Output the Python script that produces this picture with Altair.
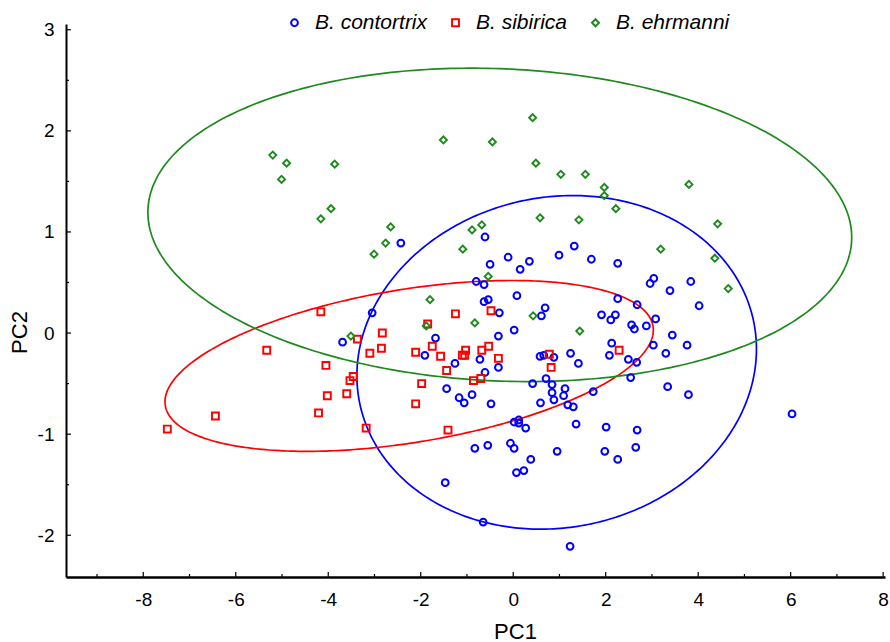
import numpy as np
import pandas as pd
import altair as alt

FONT = "Liberation Sans, Arial, sans-serif"

SPECIES = ["B. contortrix", "B. sibirica", "B. ehrmanni"]
COLORS = ["#0000FF", "#FF0000", "#1E8A1E"]
SHAPES = ["circle", "square", "diamond"]
SIZES = [46, 50, 62]
STROKES = [2.0, 1.9, 1.3]

contortrix_pc1 = [-2.43, -0.61, -0.11, -0.50, 0.15, -0.80, -0.63, 0.35, 0.99, 1.32,
                  1.69, 2.26, 0.08, -0.63, -0.54, -0.30, 0.61, 0.69, 1.91, 2.11,
                  2.21, 2.26, 2.68, 2.96, 3.04, 3.39, 3.84, 4.02, 3.08, 2.56,
                  2.62, 2.88, 0.02, 3.44, 3.76, 3.30, 3.03, 2.13, 2.08, 2.49,
                  2.67, 1.24, 1.41, 0.58, 0.66, 0.88, 0.71, 2.54, 0.42, 0.84,
                  0.84, 1.12, 1.09, 0.88, 1.73, 3.34, 3.79, 0.59, 1.18, 1.30,
                  -0.32, -0.72, -0.61, -0.32, -1.26, -1.44, -1.17, -1.06, -0.89, -0.48,
                  0.02, 0.12, 0.12, 0.27, -0.83, -0.55, -0.06, 0.02, 0.38, 0.07,
                  0.23, 0.95, 1.36, 2.01, 2.68, 1.98, 2.26, 2.65, -1.47, -0.65,
                  1.23, 6.03, -3.05, -3.69, -1.68, -1.91]
contortrix_pc2 = [0.89, 0.95, 0.75, 0.68, 0.63, 0.51, 0.48, 0.71, 0.77, 0.86,
                  0.73, 0.69, 0.37, 0.31, 0.33, 0.20, 0.17, 0.25, 0.18, 0.13,
                  0.18, 0.34, 0.28, 0.49, 0.54, 0.42, 0.51, 0.27, 0.14, 0.08,
                  0.04, 0.07, 0.03, -0.02, -0.12, -0.20, -0.12, -0.10, -0.22, -0.26,
                  -0.29, -0.20, -0.30, -0.23, -0.22, -0.24, -0.45, -0.44, -0.50, -0.51,
                  -0.59, -0.55, -0.62, -0.66, -0.58, -0.53, -0.61, -0.69, -0.71, -0.73,
                  -0.03, -0.26, -0.39, -0.34, -0.30, -0.55, -0.64, -0.69, -0.61, -0.70,
                  -0.88, -0.86, -0.89, -0.94, -1.14, -1.11, -1.09, -1.14, -1.25, -1.38,
                  -1.36, -1.17, -0.90, -0.93, -0.96, -1.17, -1.25, -1.13, -1.48, -1.87,
                  -2.11, -0.80, 0.20, -0.09, -0.05, -0.22]

sibirica_pc1 = [-4.16, -5.33, -4.05, -4.02, -4.21, -6.44, -7.48, -3.37, -2.83, -3.10,
                -2.85, -3.46, -3.53, -3.60, -3.18, -1.85, -2.11, -1.75, -1.57, -1.44,
                -1.98, -2.11, -1.41, -1.25, -0.48, -1.03, -1.05, -1.10, -0.68, -0.53,
                -0.32, -0.86, -0.70, 0.78, 0.82, 2.29]
sibirica_pc2 = [0.21, -0.17, -0.32, -0.62, -0.79, -0.82, -0.95, -0.06, 0.00, -0.20,
                -0.15, -0.43, -0.47, -0.60, -0.94, 0.09, -0.19, -0.13, -0.23, -0.37,
                -0.50, -0.70, -0.96, 0.19, 0.22, -0.17, -0.22, -0.22, -0.17, -0.13,
                -0.25, -0.47, -0.45, -0.21, -0.34, -0.17]

ehrmanni_pc1 = [-5.20, -4.90, -5.01, -3.86, -3.94, -4.16, -1.51, -0.45, -2.65, -2.76,
                -3.01, -0.89, -0.68, -1.09, -0.54, 0.42, 0.49, 1.03, 1.56, 1.97,
                1.97, 3.80, 2.22, 0.58, 1.42, 4.42, 3.19, 4.36, 4.65, -1.80,
                -1.88, -0.83, -3.51, 0.43, 1.44]
ehrmanni_pc2 = [1.76, 1.68, 1.52, 1.67, 1.23, 1.13, 1.91, 1.89, 1.05, 0.89,
                0.78, 1.02, 1.07, 0.83, 0.56, 2.13, 1.68, 1.57, 1.57, 1.44,
                1.36, 1.47, 1.23, 1.14, 1.12, 1.08, 0.83, 0.74, 0.44, 0.33,
                0.07, 0.10, -0.03, 0.17, 0.02]

# confidence ellipses: centre, half-ranges in x and y, and x-y coupling (cos of phase)
ell_cx = [0.94, -2.25, -0.29]
ell_cy = [-0.29, -0.325, 1.07]
ell_rx = [4.32, 5.28, 7.61]
ell_ry = [1.65, 0.845, 1.55]
ell_rho = [0.08, 0.42, -0.08]

x_major = [-8, -6, -4, -2, 0, 2, 4, 6, 8]
x_minor = [-9, -7, -5, -3, -1, 1, 3, 5, 7]
y_major = [-2, -1, 0, 1, 2, 3]
y_minor = [-1.5, -0.5, 0.5, 1.5, 2.5]

W, H = 819, 553

pts = pd.concat([
    pd.DataFrame({"pc1": contortrix_pc1, "pc2": contortrix_pc2, "species": SPECIES[0]}),
    pd.DataFrame({"pc1": sibirica_pc1, "pc2": sibirica_pc2, "species": SPECIES[1]}),
    pd.DataFrame({"pc1": ehrmanni_pc1, "pc2": ehrmanni_pc2, "species": SPECIES[2]}),
], ignore_index=True)

xs = alt.Scale(domain=[-9.671, 8.04], nice=False, zero=False)
ys = alt.Scale(domain=[-2.413, 3.057], nice=False, zero=False)

x_axis = alt.Axis(values=x_major, ticks=False, tickSize=0, grid=False,
                  domainColor="black", domainWidth=2.5,
                  labelFont=FONT, labelFontSize=19, labelColor="black",
                  labelPadding=13, labelFlush=False, labelOverlap=False,
                  labelExpr="'' + datum.value",
                  title="PC1", titleFont=FONT, titleFontSize=22,
                  titleFontWeight="normal", titleColor="black",
                  titleX=449, titleY=54, titleAlign="center", titleBaseline="middle")
y_axis = alt.Axis(values=y_major, ticks=False, tickSize=0, grid=False,
                  domainColor="black", domainWidth=2,
                  labelFont=FONT, labelFontSize=19, labelColor="black",
                  labelPadding=12, labelFlush=False, labelOverlap=False,
                  labelExpr="'' + datum.value",
                  title="PC2", titleFont=FONT, titleFontSize=22,
                  titleFontWeight="normal", titleColor="black", titleAngle=270,
                  titleX=-47, titleY=308, titleAlign="center", titleBaseline="middle")

X = alt.X("pc1:Q", scale=xs, axis=x_axis)
Y = alt.Y("pc2:Q", scale=ys, axis=y_axis)

layers = []
t = np.linspace(0, 2 * np.pi, 361)
for i in range(3):
    phi = np.arccos(ell_rho[i])
    edf = pd.DataFrame({
        "pc1": ell_cx[i] + ell_rx[i] * np.cos(t),
        "pc2": ell_cy[i] + ell_ry[i] * np.cos(t - phi),
        "idx": np.arange(len(t)),
    })
    layers.append(alt.Chart(edf).mark_line(color=COLORS[i], strokeWidth=1.7)
                  .encode(x=X, y=Y, order="idx:Q"))

legend = alt.Legend(orient="none", legendX=218, legendY=-12, direction="horizontal",
                    labelFont=FONT, labelFontSize=21, labelFontStyle="italic",
                    labelColor="black", symbolSize=50, symbolStrokeWidth=1.7,
                    labelOffset=10, columnPadding=17, padding=0, labelLimit=300)

points = alt.Chart(pts).mark_point(filled=False, opacity=1).encode(
    x=X, y=Y,
    color=alt.Color("species:N", scale=alt.Scale(domain=SPECIES, range=COLORS),
                    legend=legend, title=None),
    shape=alt.Shape("species:N", scale=alt.Scale(domain=SPECIES, range=SHAPES),
                    legend=legend, title=None),
    size=alt.Size("species:N", scale=alt.Scale(domain=SPECIES, range=SIZES), legend=None),
    strokeWidth=alt.StrokeWidth("species:N", scale=alt.Scale(domain=SPECIES, range=STROKES),
                                legend=None),
)
layers.append(points)

xt_major = alt.Chart(pd.DataFrame({"pc1": x_major})).mark_rule(color="black", strokeWidth=1.2).encode(
    x=X, y=alt.value(H), y2=alt.value(H - 5))
xt_minor = alt.Chart(pd.DataFrame({"pc1": x_minor})).mark_rule(color="black", strokeWidth=1.2).encode(
    x=X, y=alt.value(H), y2=alt.value(H - 3))
yt_major = alt.Chart(pd.DataFrame({"pc2": y_major})).mark_rule(color="black", strokeWidth=1.2).encode(
    y=Y, x=alt.value(0), x2=alt.value(5))
yt_minor = alt.Chart(pd.DataFrame({"pc2": y_minor})).mark_rule(color="black", strokeWidth=1.2).encode(
    y=Y, x=alt.value(0), x2=alt.value(3))
layers += [xt_major, xt_minor, yt_major, yt_minor]

chart = alt.layer(*layers).properties(
    width=W, height=H,
    autosize=alt.AutoSizeParams(type="none"),
    padding={"left": 66, "top": 24, "right": 5, "bottom": 65},
    background="white",
).configure_view(stroke=None)

chart.save("out.html", embed_options={"renderer": "svg", "actions": False})
